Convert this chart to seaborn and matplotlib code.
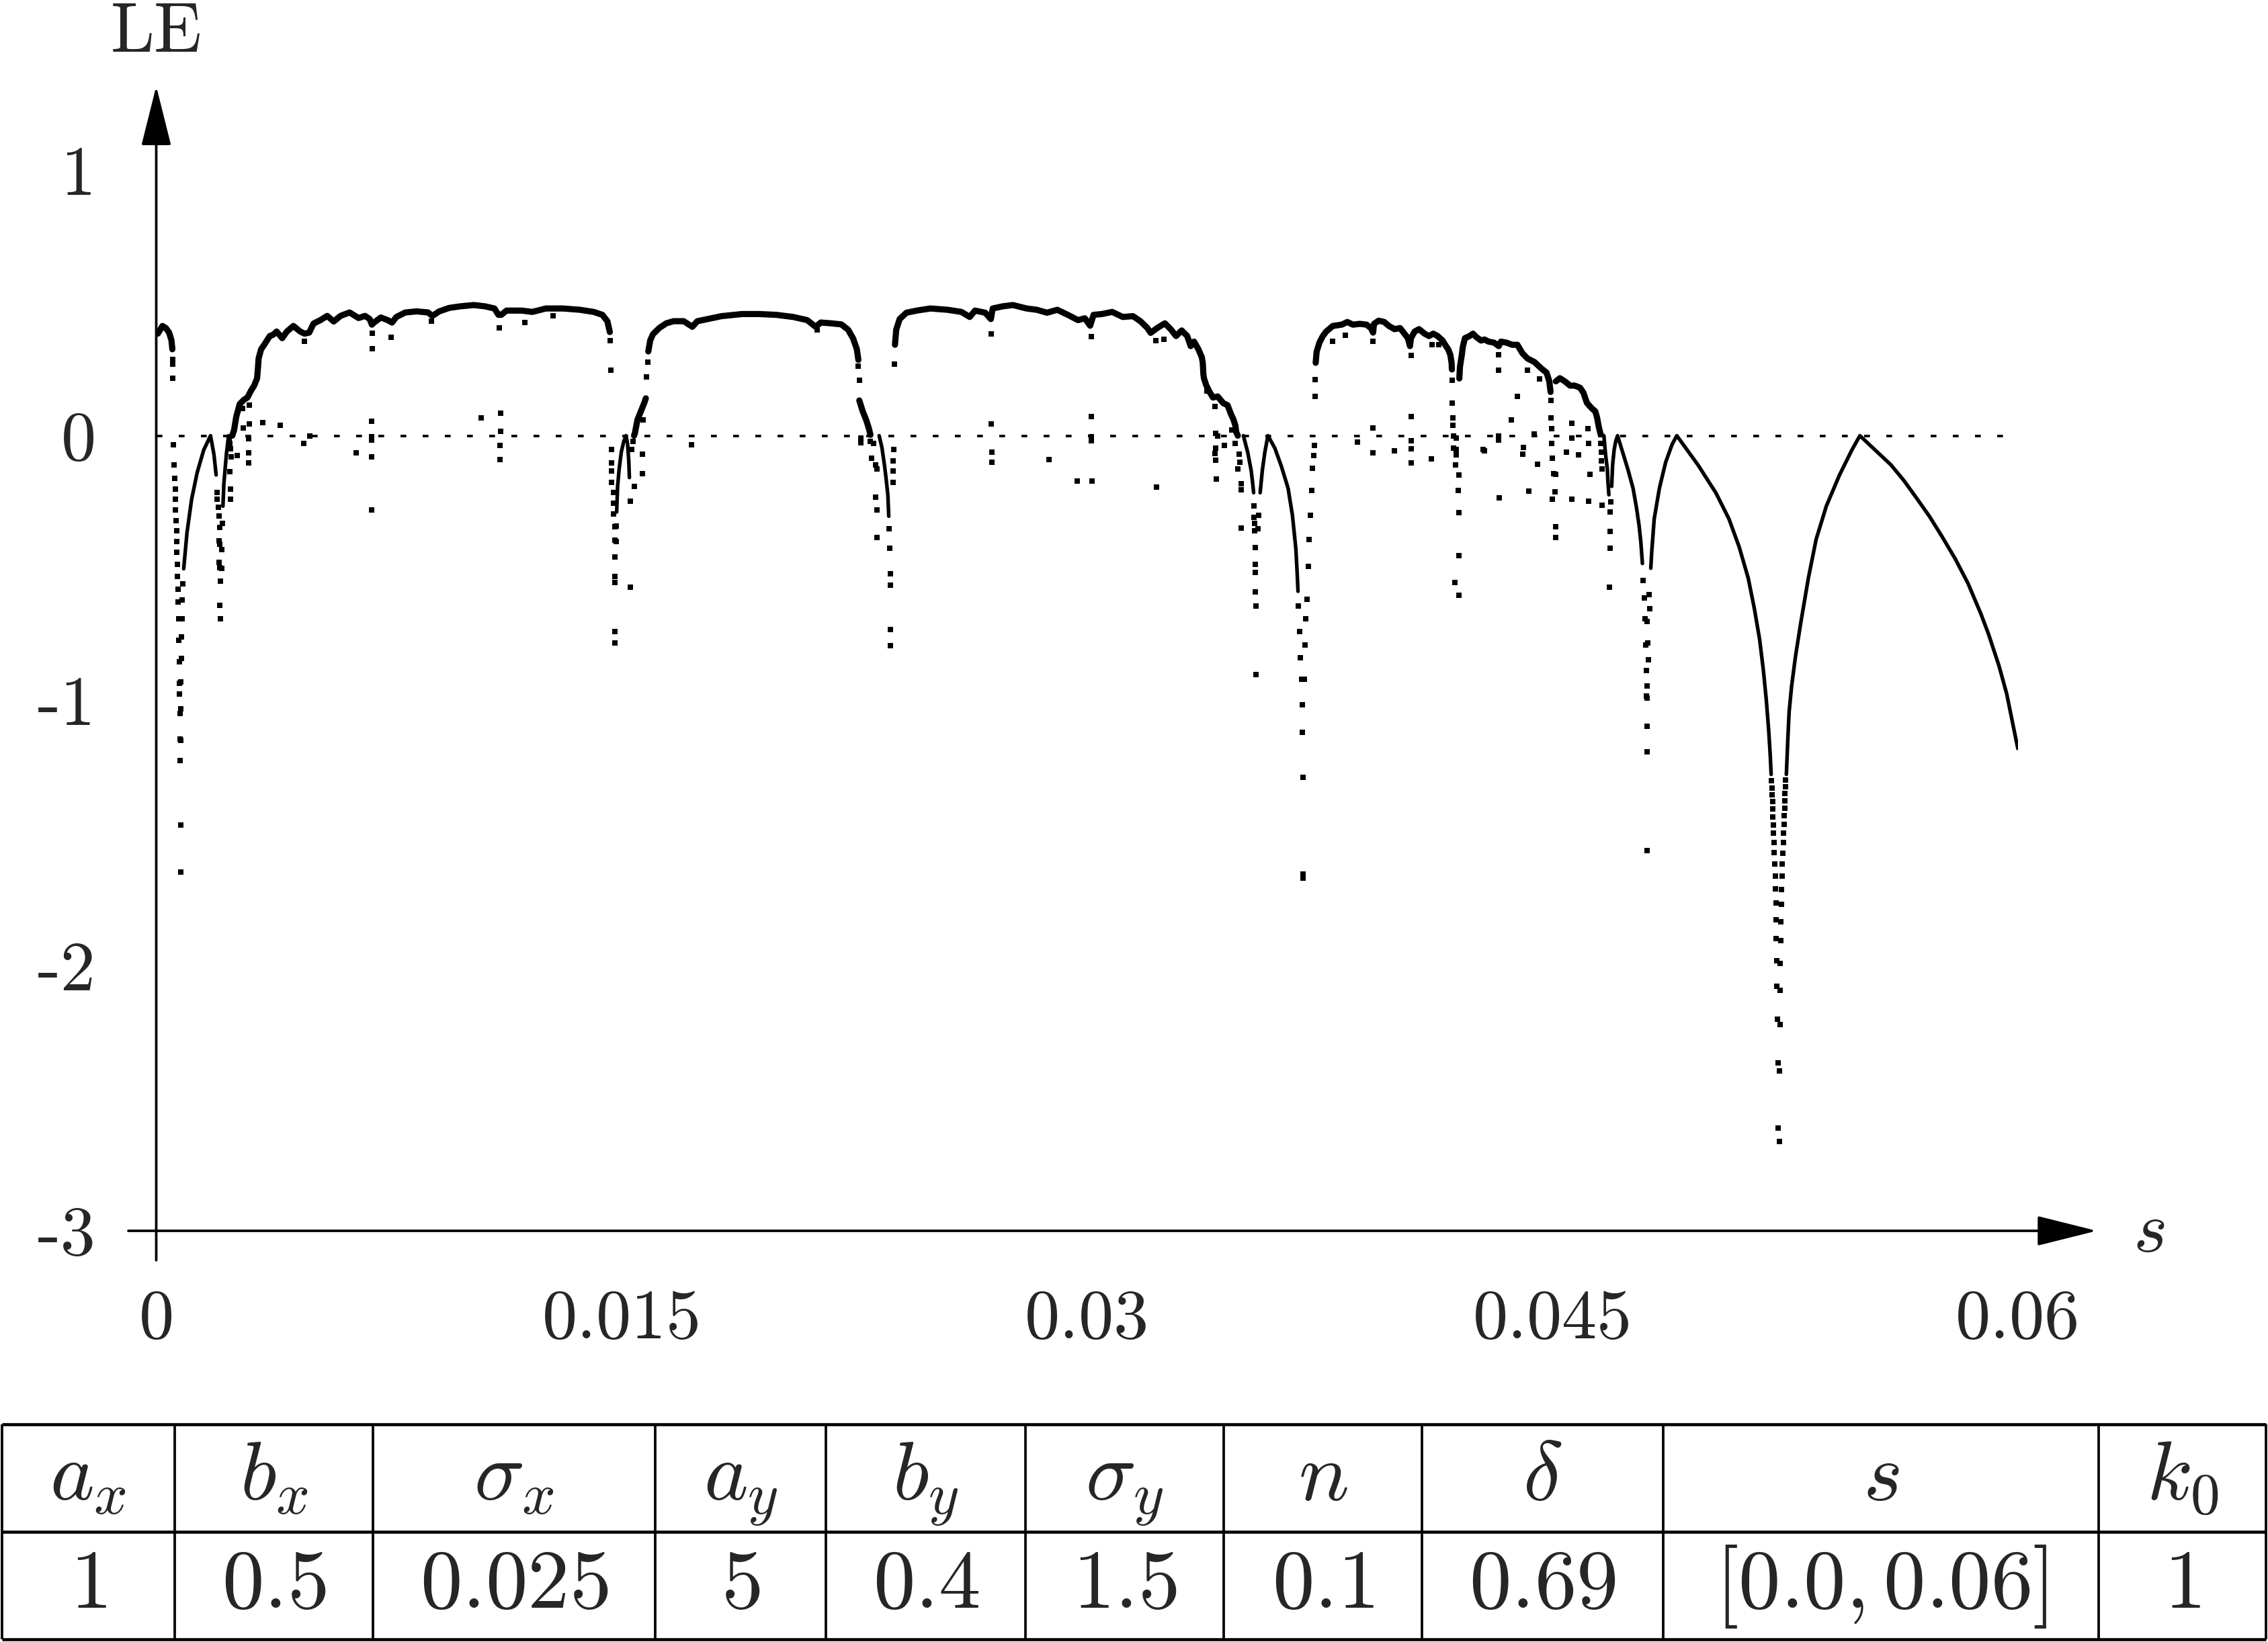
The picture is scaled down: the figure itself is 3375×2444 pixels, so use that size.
import matplotlib
matplotlib.use("Agg")
import matplotlib.pyplot as plt
import pandas as pd
import seaborn as sns

# s values are given in units of 1e-3, LE values as read from the plot
# dense (chaotic) bands, drawn as thick lines
band_0 = [(0.05, 0.385), (0.20, 0.414), (0.31, 0.406), (0.415, 0.389), (0.49, 0.36), (0.52, 0.326)]
band_1 = [(2.45, 0.0), (2.51, 0.022), (2.58, 0.072), (2.69, 0.119), (2.83, 0.136), (2.94, 0.144),
          (3.05, 0.169), (3.16, 0.19), (3.25, 0.216), (3.28, 0.258), (3.30, 0.292), (3.38, 0.326),
          (3.48, 0.343), (3.66, 0.376), (3.77, 0.381), (3.88, 0.393), (4.06, 0.368), (4.21, 0.393),
          (4.42, 0.414), (4.64, 0.393), (4.78, 0.385), (4.93, 0.389), (5.07, 0.423), (5.29, 0.436),
          (5.51, 0.452), (5.72, 0.431), (5.94, 0.452), (6.23, 0.465), (6.52, 0.444), (6.73, 0.452),
          (6.88, 0.44), (6.95, 0.419), (7.02, 0.427), (7.24, 0.446), (7.46, 0.436), (7.60, 0.427),
          (7.74, 0.448), (8.03, 0.465), (8.39, 0.469), (8.76, 0.465), (8.90, 0.452), (9.12, 0.469),
          (9.44, 0.482), (9.79, 0.488), (10.24, 0.493), (10.60, 0.488), (10.90, 0.48), (11.03, 0.456),
          (11.12, 0.456), (11.29, 0.472), (11.78, 0.472), (12.12, 0.467), (12.56, 0.48), (13.11, 0.48),
          (13.66, 0.475), (14.10, 0.467), (14.38, 0.456), (14.54, 0.432), (14.62, 0.391)]
band_2a = [(15.40, 0.0), (15.43, 0.011), (15.51, 0.06), (15.62, 0.092), (15.73, 0.124), (15.78, 0.141)]
band_2 = [(15.86, 0.318), (15.92, 0.359), (16.01, 0.383), (16.22, 0.407), (16.44, 0.424), (16.67, 0.432),
          (17.00, 0.432), (17.28, 0.411), (17.44, 0.432), (17.77, 0.44), (18.22, 0.451), (18.88, 0.459),
          (19.43, 0.459), (19.98, 0.456), (20.53, 0.448), (20.98, 0.436), (21.25, 0.411), (21.42, 0.427),
          (21.75, 0.424), (22.08, 0.42), (22.30, 0.40), (22.46, 0.367), (22.58, 0.327), (22.63, 0.286)]
band_2b = [(22.66, 0.133), (22.77, 0.092), (22.88, 0.06), (22.97, 0.027), (23.02, 0.003)]
band_3 = [(23.81, 0.343), (23.85, 0.40), (23.96, 0.44), (24.18, 0.464), (24.51, 0.472), (24.95, 0.48),
          (25.51, 0.475), (25.95, 0.467), (26.22, 0.448), (26.39, 0.472), (26.72, 0.464), (26.90, 0.44),
          (26.96, 0.48), (27.28, 0.488), (27.61, 0.493), (28.05, 0.48), (28.38, 0.475), (28.71, 0.464),
          (29.04, 0.475), (29.38, 0.456), (29.71, 0.436), (29.93, 0.443), (30.10, 0.415), (30.21, 0.456),
          (30.48, 0.459), (30.81, 0.467), (31.15, 0.448), (31.48, 0.451), (31.72, 0.432), (31.94, 0.407),
          (32.05, 0.388), (32.27, 0.407), (32.51, 0.424), (32.71, 0.40), (32.87, 0.376), (33.05, 0.397),
          (33.23, 0.376), (33.34, 0.338), (33.45, 0.355), (33.59, 0.326), (33.70, 0.296), (33.73, 0.275),
          (33.75, 0.233), (33.77, 0.216), (33.84, 0.191), (33.95, 0.165), (34.06, 0.144), (34.21, 0.148),
          (34.39, 0.123), (34.53, 0.115), (34.64, 0.081), (34.71, 0.064), (34.78, 0.039), (34.81, 0.013),
          (34.86, 0.0)]
band_4 = [(37.37, 0.275), (37.40, 0.317), (37.49, 0.351), (37.60, 0.376), (37.71, 0.393), (37.92, 0.414),
          (38.21, 0.419), (38.39, 0.429), (38.57, 0.419), (38.79, 0.422), (39.01, 0.419), (39.15, 0.406),
          (39.22, 0.389), (39.25, 0.422), (39.40, 0.434), (39.58, 0.429), (39.73, 0.414), (39.91, 0.402),
          (40.09, 0.406), (40.23, 0.385), (40.34, 0.368), (40.41, 0.338), (40.44, 0.368), (40.56, 0.393),
          (40.70, 0.402), (40.88, 0.385), (41.02, 0.376), (41.16, 0.385), (41.30, 0.376), (41.46, 0.359),
          (41.57, 0.338), (41.64, 0.326), (41.71, 0.305), (41.75, 0.275), (41.76, 0.25)]
band_5 = [(42.00, 0.216), (42.02, 0.26), (42.08, 0.305), (42.11, 0.334), (42.18, 0.368), (42.33, 0.376),
          (42.44, 0.385), (42.55, 0.372), (42.70, 0.359), (42.81, 0.363), (42.94, 0.355), (43.12, 0.351),
          (43.27, 0.338), (43.34, 0.355), (43.52, 0.351), (43.70, 0.343), (43.87, 0.343), (44.04, 0.31),
          (44.20, 0.291), (44.42, 0.278), (44.64, 0.254), (44.81, 0.238), (44.90, 0.205), (44.94, 0.165)]
band_6 = [(45.11, 0.205), (45.24, 0.217), (45.40, 0.205), (45.57, 0.189), (45.72, 0.189), (45.89, 0.181),
          (46.00, 0.162), (46.11, 0.124), (46.27, 0.103), (46.38, 0.092), (46.44, 0.068), (46.49, 0.036),
          (46.55, 0.006)]

# periodic windows: smooth cusped arcs, drawn as thin lines
arc_1 = [(0.885, -0.502), (0.99, -0.367), (1.14, -0.24), (1.32, -0.139), (1.53, -0.054), (1.75, 0.0),
         (1.86, -0.071), (1.93, -0.148)]
arc_2 = [(2.15, -0.266), (2.18, -0.18), (2.26, -0.071), (2.33, 0.0)]
arc_3 = [(14.84, -0.288), (14.87, -0.191), (14.92, -0.126), (14.99, -0.061), (15.07, -0.021), (15.14, 0.0),
         (15.19, -0.029), (15.23, -0.094), (15.25, -0.158)]
arc_4 = [(23.30, 0.0), (23.39, -0.045), (23.47, -0.11), (23.52, -0.158), (23.58, -0.223), (23.61, -0.304)]
arc_5 = [(35.04, 0.0), (35.18, -0.063), (35.29, -0.131), (35.34, -0.181), (35.37, -0.215)]
arc_6 = [(35.58, -0.215), (35.65, -0.131), (35.73, -0.063), (35.83, 0.0), (36.05, -0.046), (36.26, -0.114),
         (36.48, -0.198), (36.62, -0.30), (36.73, -0.426), (36.77, -0.511), (36.80, -0.587)]
arc_7 = [(46.55, 0.006), (46.66, 0.0), (46.68, -0.029), (46.72, -0.078), (46.77, -0.126), (46.79, -0.175),
         (46.82, -0.223)]
arc_8 = [(46.91, -0.191), (46.94, -0.11), (46.99, -0.053), (47.04, -0.021), (47.10, 0.0), (47.26, -0.061),
         (47.43, -0.126), (47.60, -0.199), (47.71, -0.272), (47.79, -0.336), (47.85, -0.401), (47.90, -0.482)]
arc_9 = [(48.17, -0.50), (48.20, -0.44), (48.28, -0.314), (48.45, -0.197), (48.65, -0.10), (48.86, -0.032),
         (49.01, 0.0), (49.69, -0.11), (50.27, -0.216), (50.69, -0.314), (51.02, -0.42), (51.31, -0.537),
         (51.51, -0.653), (51.68, -0.77), (51.80, -0.886), (51.89, -0.993), (51.97, -1.11), (52.02, -1.205),
         (52.05, -1.278)]
arc_10 = [(52.54, -1.278), (52.59, -1.138), (52.63, -1.041), (52.71, -0.944), (52.84, -0.828), (53.01, -0.702),
          (53.25, -0.537), (53.50, -0.391), (53.83, -0.265), (54.25, -0.149), (54.66, -0.052), (54.91, 0.0),
          (55.91, -0.110), (56.32, -0.168), (56.74, -0.236), (57.15, -0.304), (57.56, -0.381), (57.98, -0.464),
          (58.39, -0.556), (58.81, -0.672), (59.06, -0.75), (59.39, -0.867), (59.64, -0.973), (60.0, -1.18)]

# isolated points
dots_a = [(0.535, 0.288), (0.535, 0.271), (0.54, 0.216),
          (0.56, -0.033), (0.57, -0.11), (0.59, -0.16), (0.61, -0.202), (0.61, -0.24), (0.62, -0.281),
          (0.63, -0.321), (0.65, -0.359), (0.66, -0.399), (0.67, -0.441), (0.68, -0.485), (0.69, -0.53),
          (0.70, -0.579), (0.71, -0.627), (0.72, -0.692), (0.73, -0.773), (0.74, -0.854), (0.75, -0.934),
          (0.75, -0.975), (0.76, -1.048), (0.77, -1.145), (0.77, -1.225), (0.78, -1.468), (0.78, -1.646),
          (0.86, -0.56), (0.84, -0.62), (0.83, -0.69), (0.82, -0.76), (0.81, -0.84), (0.80, -0.93),
          (0.80, -1.03), (0.79, -1.15),
          (1.96, -0.215), (1.97, -0.24), (2.0, -0.27), (2.02, -0.304), (2.04, -0.346), (2.03, -0.396),
          (2.05, -0.409), (2.03, -0.477), (2.05, -0.498), (2.06, -0.55), (2.05, -0.64), (2.06, -0.69),
          (2.12, -0.43), (2.11, -0.50), (2.13, -0.33),
          (2.36, -0.01), (2.38, -0.03), (2.39, -0.05), (2.37, -0.135), (2.40, -0.202), (2.40, -0.24),
          (2.62, -0.076), (2.41, -0.08),
          (3.01, 0.115), (2.79, 0.102), (2.99, 0.045), (2.80, 0.028), (3.43, 0.05), (3.99, 0.04),
          (2.97, -0.012), (2.97, -0.065), (2.97, -0.103), (4.76, -0.029), (4.94, 0.0), (4.77, 0.357),
          (6.44, -0.065), (6.95, 0.055), (6.95, -0.005), (6.95, -0.016), (6.95, -0.08), (6.94, -0.281),
          (6.97, 0.387), (6.97, 0.327), (7.56, 0.372), (8.88, 0.431),
          (10.48, 0.068), (11.10, 0.084), (11.10, 0.016), (11.08, -0.037), (11.08, -0.09), (11.06, 0.407),
          (11.89, 0.428), (12.78, 0.453), (14.63, 0.359), (14.65, 0.246)]
dots_b = [(14.68, -0.053), (14.68, -0.102), (14.68, -0.134), (14.68, -0.175), (14.73, -0.215),
          (14.73, -0.255), (14.73, -0.296), (14.79, -0.344), (14.79, -0.393), (14.79, -0.457),
          (14.79, -0.53), (14.79, -0.554), (14.79, -0.74), (14.79, -0.781), (14.83, -0.34), (14.82, -0.40),
          (15.27, -0.247), (15.27, -0.571), (15.32, -0.053), (15.36, -0.021), (15.40, -0.191),
          (15.67, -0.142), (15.67, -0.07), (15.70, 0.06), (15.80, 0.221), (15.84, 0.278), (17.25, -0.034),
          (21.31, 0.40), (22.63, 0.262), (22.66, 0.209),
          (22.72, -0.01), (22.72, -0.026), (23.02, -0.021), (23.05, -0.086), (23.18, -0.11), (23.18, -0.231),
          (23.22, -0.28), (23.22, -0.385), (23.13, -0.029), (23.24, -0.126), (23.63, -0.352),
          (23.65, -0.425), (23.66, -0.522), (23.66, -0.563), (23.67, -0.732), (23.67, -0.792),
          (23.76, -0.175), (23.76, -0.134), (23.76, -0.094), (23.77, -0.053), (23.79, 0.27),
          (26.92, 0.383), (26.92, 0.044), (26.94, -0.061), (26.94, -0.099), (28.77, -0.09), (29.68, -0.171)]
dots_c = [(30.15, -0.171), (30.13, 0.071), (30.13, -0.005), (30.13, -0.018), (30.13, 0.375),
          (32.21, 0.359), (32.47, 0.364), (32.24, -0.194), (33.87, 0.169), (34.13, 0.11), (34.15, 0.009),
          (34.21, 0.0), (34.15, -0.046), (34.13, -0.067), (34.15, -0.093), (34.16, -0.164), (34.42, -0.038),
          (34.66, 0.022), (34.78, -0.029), (34.86, -0.126), (34.96, -0.181), (34.96, -0.205),
          (34.96, -0.349), (34.90, -0.07), (34.92, -0.10),
          (35.38, -0.266), (35.39, -0.308), (35.40, -0.33), (35.41, -0.359), (35.43, -0.422),
          (35.42, -0.485), (35.43, -0.515), (35.42, -0.589), (35.45, -0.643), (35.45, -0.902),
          (35.53, -0.30), (35.52, -0.352),
          (36.82, -0.643), (36.85, -0.74), (36.88, -0.837), (36.91, -0.918), (36.93, -1.015), (36.94, -1.12),
          (36.97, -1.29), (36.97, -1.654), (36.97, -1.67), (37.00, -0.918), (37.02, -0.789), (37.05, -0.692),
          (37.09, -0.616), (37.13, -0.493), (37.16, -0.392), (37.20, -0.30), (37.24, -0.207),
          (37.27, -0.122), (37.31, -0.076), (37.32, -0.038), (37.35, 0.148), (37.36, 0.212),
          (37.92, 0.355), (38.32, 0.38), (38.71, -0.023), (39.22, 0.357), (39.22, 0.028), (39.22, -0.065),
          (39.91, -0.058), (40.44, 0.302), (40.44, 0.071), (40.44, -0.018), (40.44, -0.05), (40.44, -0.103),
          (41.09, -0.087), (41.12, 0.343), (41.34, 0.343),
          (41.77, 0.21), (41.77, 0.123), (41.79, 0.068), (41.80, 0.039), (41.82, 0.0), (41.89, -0.01),
          (41.82, -0.046), (41.90, -0.053), (41.91, -0.071), (41.88, -0.11), (41.99, -0.148),
          (41.96, -0.206), (41.99, -0.29), (41.98, -0.452), (41.85, -0.553), (41.99, -0.602)]
dots_d = [(42.81, -0.058), (43.27, 0.305), (43.27, 0.248), (43.27, 0.0), (43.27, -0.016), (43.28, -0.235),
          (43.67, 0.06), (42.77, -0.053), (43.87, 0.149), (44.20, 0.246), (44.59, 0.213), (44.04, -0.07),
          (44.07, -0.045), (44.24, -0.21), (44.52, -0.107), (44.42, 0.006),
          (44.95, 0.133), (44.95, 0.068), (44.97, 0.027), (44.97, -0.029), (45.00, -0.086), (45.03, -0.142),
          (45.08, -0.212), (45.00, -0.239), (45.10, -0.344), (45.10, -0.385), (45.11, -0.145),
          (45.62, 0.047), (45.62, -0.01), (45.46, -0.061), (45.62, -0.239), (45.84, -0.073), (46.14, 0.027),
          (46.16, -0.029), (46.20, -0.145), (46.16, -0.247), (46.61, -0.263),
          (46.55, -0.029), (46.57, -0.061), (46.58, -0.094), (46.60, -0.126), (46.85, -0.288),
          (46.85, -0.36), (46.85, -0.425), (46.84, -0.571), (46.88, -0.25),
          (47.93, -0.546), (47.96, -0.611), (47.99, -0.692), (48.01, -0.789), (48.02, -0.886),
          (48.03, -0.983), (48.04, -1.096), (48.04, -1.193), (48.04, -1.565), (48.06, -0.70), (48.07, -0.781),
          (48.09, -0.845), (48.05, -0.944), (48.05, -0.99), (48.13, -0.653), (48.12, -0.60)]
dots_e = [(52.06, -1.302), (52.08, -1.329), (52.09, -1.354), (52.10, -1.381), (52.10, -1.409),
          (52.11, -1.438), (52.13, -1.468), (52.13, -1.50), (52.15, -1.535), (52.15, -1.574), (52.17, -1.615),
          (52.18, -1.661), (52.19, -1.71), (52.21, -1.764), (52.21, -1.826), (52.22, -1.898), (52.23, -1.98),
          (52.24, -2.078), (52.26, -2.202), (52.27, -2.367), (52.28, -2.612),
          (52.31, -2.663), (52.32, -2.396), (52.34, -2.222), (52.34, -2.093), (52.35, -1.991),
          (52.36, -1.906), (52.36, -1.833), (52.38, -1.769), (52.39, -1.713), (52.40, -1.662),
          (52.41, -1.617), (52.42, -1.575), (52.44, -1.535), (52.44, -1.50), (52.46, -1.466),
          (52.47, -1.434), (52.48, -1.405), (52.49, -1.377), (52.50, -1.351), (52.51, -1.324), (52.52, -1.30)]

x_ticks = [0, 0.015, 0.03, 0.045, 0.06]
x_tick_labels = ["0", "0.015", "0.03", "0.045", "0.06"]
y_ticks = [1, 0, -1, -2, -3]
y_tick_labels = ["1", "0", "-1", "-2", "-3"]

param_names = [r"$a_x$", r"$b_x$", r"$\sigma_x$", r"$a_y$", r"$b_y$", r"$\sigma_y$", r"$n$", r"$\delta$",
               r"$s$", r"$k_0$"]
param_values = [r"$1$", r"$0.5$", r"$0.025$", r"$5$", r"$0.4$", r"$1.5$", r"$0.1$", r"$0.69$",
                r"$[0.0, 0.06]$", r"$1$"]


def to_frame(pieces):
    rows = []
    for i, piece in enumerate(pieces):
        for ms, le in piece:
            rows.append((i, ms / 1000.0, le))
    return pd.DataFrame(rows, columns=["piece", "s", "LE"])


thick = to_frame([band_0, band_1, band_2a, band_2, band_2b, band_3, band_4, band_5, band_6])
thin = to_frame([arc_1, arc_2, arc_3, arc_4, arc_5, arc_6, arc_7, arc_8, arc_9, arc_10])
dots = to_frame([dots_a, dots_b, dots_c, dots_d, dots_e])

sns.set_style("white")
plt.rcParams["font.family"] = ["cmr10"]
plt.rcParams["mathtext.fontset"] = "cm"
plt.rcParams["axes.unicode_minus"] = False

W, H = 3375, 2444
fig = plt.figure(figsize=(W / 300, H / 300), dpi=300)
# plot area: s in [0, 0.06], LE in [-3, 1]
ax = fig.add_axes([232.5 / W, 1 - 1832 / H, 2770.2 / W, 1578 / H])

ax.axhline(0, color="black", lw=0.9, linestyle=(0, (2.3, 6.5)), zorder=1)
sns.lineplot(data=thick, x="s", y="LE", units="piece", estimator=None, sort=False,
             color="black", lw=2.2, ax=ax, legend=False)
sns.lineplot(data=thin, x="s", y="LE", units="piece", estimator=None, sort=False,
             color="black", lw=1.3, ax=ax, legend=False)
sns.scatterplot(data=dots, x="s", y="LE", marker="s", s=3.2, color="black", linewidth=0,
                ax=ax, legend=False)

ax.set_xlim(0, 0.06)
ax.set_ylim(-3, 1)
ax.set_xlabel("")
ax.set_ylabel("")
for sp in ax.spines.values():
    sp.set_visible(False)
ax.set_xticks(x_ticks, x_tick_labels)
ax.set_yticks(y_ticks, y_tick_labels)
ax.tick_params(axis="both", direction="out", length=10, width=0.9, color="black", labelsize=25)
ax.tick_params(axis="x", pad=11)
ax.tick_params(axis="y", pad=11.5)

arrow = dict(arrowstyle="-|>,head_length=0.94,head_width=0.235", mutation_scale=20,
             lw=0.9, color="black", shrinkA=0, shrinkB=0)
ax.annotate("", xy=(0, 1.319), xytext=(0, -3.111), arrowprops=arrow, annotation_clip=False)
ax.annotate("", xy=(0.062545, -3), xytext=(-0.000899, -3), arrowprops=arrow, annotation_clip=False)
ax.text(0, 1.451, "LE", ha="center", va="baseline", fontsize=25)
ax.text(0.064234, -3.0786, r"$s$", ha="center", va="baseline", fontsize=26)

# parameter table under the plot
tab = fig.add_axes([0, 0, 1, 1])
tab.set_xlim(0, W)
tab.set_ylim(H, 0)
tab.axis("off")
col_edges = [3, 260, 555, 975, 1229, 1526, 1821, 2116, 2475, 3123, 3372]
row_edges = [2120, 2280, 2440]
tab.hlines(row_edges, col_edges[0], col_edges[-1], color="black", lw=1.1)
tab.vlines(col_edges, row_edges[0], row_edges[-1], color="black", lw=0.9)
for i, (name, val) in enumerate(zip(param_names, param_values)):
    xc = (col_edges[i] + col_edges[i + 1]) / 2
    tab.text(xc, 2233, name, ha="center", va="baseline", fontsize=30)
    tab.text(xc, 2393, val, ha="center", va="baseline", fontsize=30)

fig.savefig("out.png", dpi=300)
